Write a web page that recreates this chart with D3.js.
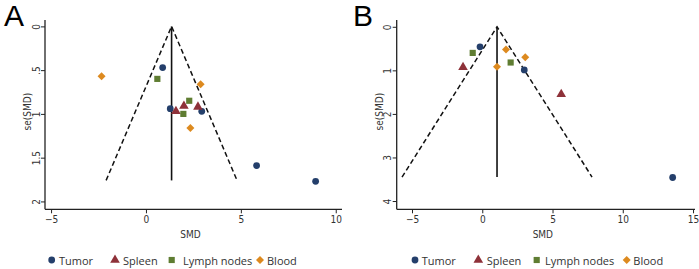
<!DOCTYPE html>
<html><head><meta charset="utf-8">
<script src="https://cdn.jsdelivr.net/npm/d3@7"></script>
<style>
body{margin:0;background:#fff;}
svg{display:block;}
.tick text, .axt{font-family:"Liberation Sans Narrow","DejaVu Sans Condensed","Arial Narrow",sans-serif;font-stretch:condensed;}
</style></head><body>
<svg id="c" width="699" height="269"></svg>
<script>
// ---- Data ----
const groups = ["Tumor","Spleen","Lymph nodes","Blood"];
const colors = ["#243f6b","#8e3139","#5f7d32","#dd8a1f"];
// Panel A
const aTumorSMD = [0.88, 1.28, 2.94, 5.83, 8.94];
const aTumorSE  = [0.47, 0.94, 0.97, 1.59, 1.77];
const aSpleenSMD = [1.58, 2.0, 2.74];
const aSpleenSE  = [0.97, 0.91, 0.92];
const aLymphSMD = [0.6, 2.28, 1.97];
const aLymphSE  = [0.6, 0.85, 1.0];
const aBloodSMD = [-2.34, 2.88, 2.34];
const aBloodSE  = [0.57, 0.66, 1.16];
const aPooled = 1.35, aSeMax = 1.76;
const aXTicks = [-5,0,5,10], aYTicks = [0,0.5,1,1.5,2];
const aYLabels = ["0",".5","1","1.5","2"];
// Panel B
const bTumorSMD = [-0.16, 2.99, 13.55];
const bTumorSE  = [0.46, 0.99, 3.46];
const bSpleenSMD = [-1.37, 5.62];
const bSpleenSE  = [0.93, 1.55];
const bLymphSMD = [-0.68, 2.02];
const bLymphSE  = [0.6, 0.82];
const bBloodSMD = [1.69, 3.06, 1.05];
const bBloodSE  = [0.52, 0.70, 0.92];
const bPooled = 1.05, bSeMax = 3.45;
const bXTicks = [-5,0,5,10,15], bYTicks = [0,1,2,3,4];
const bYLabels = ["0","1","2","3","4"];

const svg = d3.select("#c");

function sym(i){
  if(i===0) return d3.symbol().type(d3.symbolCircle).size(36)();
  if(i===1) return d3.symbol().type(d3.symbolTriangle).size(40)();
  if(i===2) return d3.symbol().type(d3.symbolSquare).size(38)();
  return d3.symbol().type(d3.symbolSquare).size(32)();
}
function symRot(i){ return i===3 ? " rotate(45)" : ""; }

function panel(o){
  const g = svg.append("g");
  const x = d3.scaleLinear().domain(o.xDom).range(o.xRange);
  const y = d3.scaleLinear().domain(o.yDom).range([o.yTop, o.yBot]);
  // axes
  const xa = g.append("g").attr("transform",`translate(0,${o.yBot})`)
    .call(d3.axisBottom(x).tickValues(o.xTicks).tickSize(4).tickPadding(3).tickFormat(d=>d<0?"\u2212"+(-d):d));
  xa.select(".domain").attr("d",`M${o.xRange[0]},0H${o.xRange[1]}`).attr("stroke","#222").attr("stroke-width",1.3);
  xa.selectAll(".tick line").attr("stroke","#222");
  xa.selectAll(".tick text").attr("font-size",10).attr("fill","#333");
  const ya = g.append("g").attr("transform",`translate(${o.xRange[0]},0)`)
    .call(d3.axisLeft(y).tickValues(o.yTicks).tickSize(4).tickFormat((d,i)=>o.yLabels[i]));
  ya.select(".domain").attr("d",`M0,${o.yTop-2}V${o.yBot}`).attr("stroke","#222").attr("stroke-width",1.3);
  ya.selectAll(".tick line").attr("stroke","#222");
  ya.selectAll(".tick text").attr("font-size",10).attr("fill","#333")
    .attr("x",null).attr("dy",null).attr("text-anchor","middle")
    .attr("transform","translate(-5.5,0) rotate(-90)");
  // axis titles
  g.append("text").attr("class","axt").attr("x",(o.xRange[0]+o.xRange[1])/2 - 3).attr("y",o.yBot+29)
    .attr("text-anchor","middle").attr("font-size",10).attr("fill","#333").text("SMD");
  g.append("text").attr("class","axt").attr("transform",`translate(${o.xRange[0]-14},${(o.yTop+o.yBot)/2 - 4}) rotate(-90)`)
    .attr("text-anchor","middle").attr("font-size",10).attr("fill","#333").text("se(SMD)");
  // funnel
  const lo = o.pooled - 1.96*o.seMax, hi = o.pooled + 1.96*o.seMax;
  g.append("path").attr("d",`M${x(lo)},${y(o.seMax)}L${x(o.pooled)},${y(0)}L${x(hi)},${y(o.seMax)}`)
    .attr("fill","none").attr("stroke","#111").attr("stroke-width",1.5).attr("stroke-dasharray","5,3");
  g.append("line").attr("x1",x(o.pooled)).attr("x2",x(o.pooled)).attr("y1",y(0)).attr("y2",y(o.seMax))
    .attr("stroke","#111").attr("stroke-width",1.6);
  // points
  o.series.forEach((s,i)=>{
    s[0].forEach((v,j)=>{
      g.append("path").attr("d",sym(i)).attr("fill",colors[i])
        .attr("transform",`translate(${x(v)},${y(s[1][j])})${symRot(i)}`);
    });
  });
  // legend
  o.leg.forEach((p,i)=>{
    g.append("path").attr("d",sym(i)).attr("fill",colors[i])
      .attr("transform",`translate(${p[0]},${260})${symRot(i)}`);
    g.append("text").attr("x",p[1]).attr("y",264.5).attr("font-family","'Open Sans',sans-serif")
      .attr("font-size",11).attr("fill","#333").text(groups[i]);
  });
  // panel label
  svg.append("text").attr("x",o.lab[0]).attr("y",26).attr("font-family","Liberation Sans, Arial, sans-serif")
    .attr("font-size",30).attr("fill","#000").text(o.lab[1]);
}

panel({xDom:[-5.32,10.33], xRange:[45,342], yDom:[-0.05,2.09], yTop:22, yBot:209.3,
  xTicks:aXTicks, yTicks:aYTicks, yLabels:aYLabels, pooled:aPooled, seMax:aSeMax,
  series:[[aTumorSMD,aTumorSE],[aSpleenSMD,aSpleenSE],[aLymphSMD,aLymphSE],[aBloodSMD,aBloodSE]],
  leg:[[51.7,59],[115,123],[171.7,183],[260,267]], lab:[4,"A"]});
panel({xDom:[-6.09,15.14], xRange:[396.7,695], yDom:[-0.11,4.19], yTop:22, yBot:209.3,
  xTicks:bXTicks, yTicks:bYTicks, yLabels:bYLabels, pooled:bPooled, seMax:bSeMax,
  series:[[bTumorSMD,bTumorSE],[bSpleenSMD,bSpleenSE],[bLymphSMD,bLymphSE],[bBloodSMD,bBloodSE]],
  leg:[[415,421.7],[478.3,486.7],[536.7,545],[626.7,633.3]], lab:[353,"B"]});
</script>
</body></html>
